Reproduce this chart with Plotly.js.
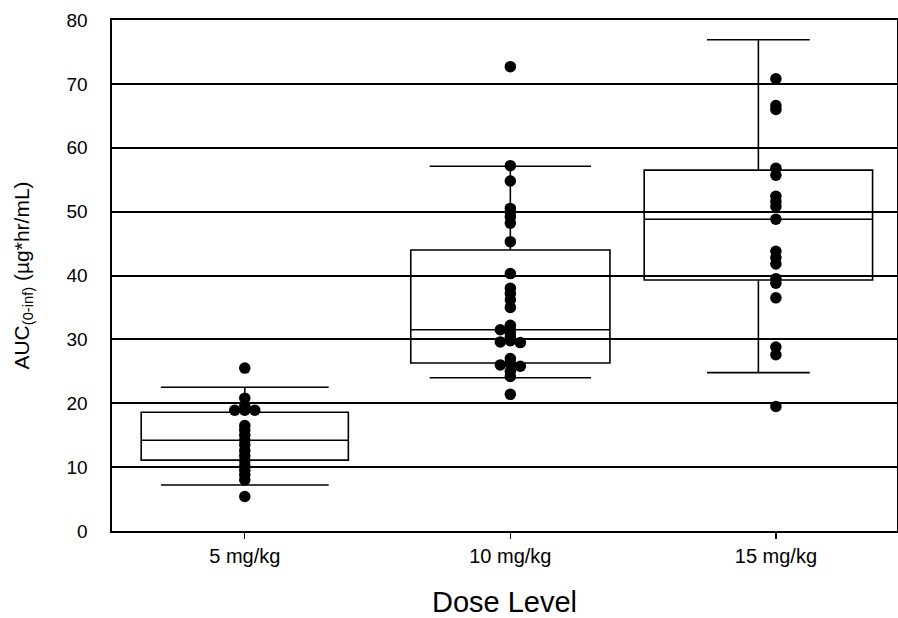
<!DOCTYPE html>
<html>
<head>
<meta charset="utf-8">
<script src="https://cdn.plot.ly/plotly-3.0.1.min.js"></script>
<style>html,body{margin:0;padding:0;background:#fff;}#chart{width:898px;height:618px;}</style>
</head>
<body>
<div id="chart"></div>
<script>
// ---- data ----
const categories = ["5 mg/kg", "10 mg/kg", "15 mg/kg"];
const dose5  = [25.5, 20.8, 19.6, 18.9, 18.9, 18.9, 16.5, 15.8, 15.0, 14.2, 13.5, 12.6, 11.8, 11.0, 10.2, 9.5, 8.8, 8.0, 5.4];
const dose10 = [72.7, 57.2, 54.8, 50.5, 49.9, 49.2, 48.2, 45.3, 40.3, 38.0, 37.2, 36.2, 35.0, 32.2, 31.6, 31.5, 31.0, 30.4, 29.8, 29.6, 29.5, 27.0, 26.2, 26.0, 25.8, 25.0, 24.2, 21.4];
const dose15 = [70.8, 66.6, 66.0, 56.8, 55.7, 52.4, 51.6, 50.8, 48.8, 43.8, 42.8, 41.8, 39.5, 38.8, 36.5, 28.8, 27.6, 19.5];
// box statistics (10th, 25th, 50th, 75th, 90th percentiles)
const p10 = [7.2, 24.0, 24.8];
const q1  = [11.1, 26.3, 39.3];
const med = [14.2, 31.5, 48.8];
const q3  = [18.6, 44.0, 56.5];
const p90 = [22.5, 57.1, 76.9];

const groups = [dose5, dose10, dose15];

// ---- layout geometry ----
const W = 898, H = 618;
const margin = {l: 112, r: 1, t: 20, b: 87};
const xRange = [-0.5, 2.456];
const yRange = [0, 80];
const pxPerX = (W - margin.l - margin.r) / (xRange[1] - xRange[0]);
const pxPerY = (H - margin.t - margin.b) / (yRange[1] - yRange[0]);

// simple deterministic beeswarm: shift a point sideways only when it nearly coincides with a placed one
function swarm(vals, center) {
  const step = 10 / pxPerX;
  const placed = [];
  return vals.map(v => {
    const cands = [0, -1, 1, -2, 2, -3, 3];
    for (const k of cands) {
      const x = center + k * step;
      const ok = placed.every(p => {
        const dx = (p.x - x) * pxPerX, dy = (p.y - v) * pxPerY;
        return Math.sqrt(dx*dx + dy*dy) >= 3.5;
      });
      if (ok) { placed.push({x, y: v}); return x; }
    }
    placed.push({x: center, y: v});
    return center;
  });
}

const traces = [];
const boxCenterShift = [0, 0, -0.066];
const boxWidth = [0.78, 0.75, 0.86];
const capFrac = [0.81, 0.81, 0.45];
for (let i = 0; i < 3; i++) {
  traces.push({
    type: 'box',
    x: [i + boxCenterShift[i]],
    q1: [q1[i]], median: [med[i]], q3: [q3[i]],
    lowerfence: [p10[i]], upperfence: [p90[i]],
    width: boxWidth[i],
    whiskerwidth: capFrac[i],
    boxpoints: false,
    fillcolor: 'rgba(255,255,255,0)',
    line: {color: '#000', width: 1.6},
    hoverinfo: 'skip',
    showlegend: false
  });
}
for (let i = 0; i < 3; i++) {
  traces.push({
    type: 'scatter', mode: 'markers',
    x: swarm(groups[i], i), y: groups[i],
    marker: {color: '#000', size: 11.5, line: {width: 0}},
    cliponaxis: false,
    hoverinfo: 'y', showlegend: false
  });
}

const font = 'Liberation Sans, Arial, sans-serif';
const layout = {
  width: W, height: H,
  margin: margin,
  paper_bgcolor: '#fff', plot_bgcolor: '#fff',
  showlegend: false,
  font: {family: font, color: '#000'},
  xaxis: {
    range: xRange,
    tickvals: [0, 1, 2], ticktext: categories,
    ticks: 'outside', ticklen: 6, tickwidth: 1.2, tickcolor: '#000',
    showgrid: false, zeroline: false,
    showline: true, mirror: true, linecolor: '#000', linewidth: 1.6,
    tickfont: {size: 20, family: font, color: '#000'},
    title: {text: 'Dose Level', font: {size: 29, family: font, color: '#000'}, standoff: 30}
  },
  yaxis: {
    range: yRange,
    tickvals: [0, 10, 20, 30, 40, 50, 60, 70, 80],
    ticks: '', showgrid: true, gridcolor: '#000', gridwidth: 2,
    zeroline: false,
    showline: true, mirror: true, linecolor: '#000', linewidth: 1.6,
    tickfont: {size: 19, family: font, color: '#000'},
    ticklabelstandoff: 19,
    title: {text: 'AUC<sub>(0-inf)</sub> (µg*hr/mL)', font: {size: 21, family: font, color: '#000'}, standoff: 31}
  }
};

Plotly.newPlot('chart', traces, layout, {staticPlot: true, displayModeBar: false});
</script>
</body>
</html>
